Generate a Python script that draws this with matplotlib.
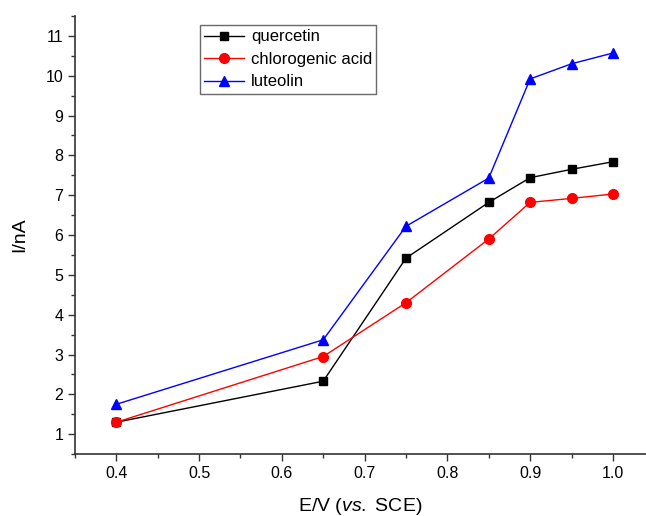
import numpy as np
import matplotlib.pyplot as plt
from matplotlib.ticker import MultipleLocator

plt.rcParams['font.family'] = ['Liberation Sans', 'DejaVu Sans']
plt.rcParams['mathtext.fontset'] = 'custom'
plt.rcParams['mathtext.rm'] = 'Liberation Sans'
plt.rcParams['mathtext.it'] = 'Liberation Sans:italic'

potential = [0.4, 0.65, 0.75, 0.85, 0.9, 0.95, 1.0]
quercetin = [1.30, 2.33, 5.42, 6.82, 7.44, 7.65, 7.84]
chlorogenic = [1.30, 2.95, 4.30, 5.90, 6.82, 6.92, 7.03]
luteolin = [1.75, 3.37, 6.22, 7.43, 9.92, 10.30, 10.57]

fig = plt.figure(figsize=(6.46, 5.16), dpi=100)
ax = fig.add_axes([0.116, 0.120, 0.884, 0.849])

ax.plot(potential, quercetin, color='black', lw=1, marker='s', ms=6, label='quercetin')
ax.plot(potential, chlorogenic, color='red', lw=1, marker='o', ms=7, label='chlorogenic acid')
ax.plot(potential, luteolin, color='blue', lw=1, marker='^', ms=7.5, label='luteolin')

ax.set_xlim(0.35, 1.04)
ax.set_ylim(0.5, 11.5)
ax.xaxis.set_minor_locator(MultipleLocator(0.05))
ax.yaxis.set_major_locator(MultipleLocator(1))
ax.yaxis.set_minor_locator(MultipleLocator(0.5))
ax.set_xticks([0.4, 0.5, 0.6, 0.7, 0.8, 0.9, 1.0])
ax.set_xticklabels(['0.4', '0.5', '0.6', '0.7', '0.8', '0.9', '1.0'])

for side in ['top', 'right']:
    ax.spines[side].set_visible(False)
for side in ['left', 'bottom']:
    ax.spines[side].set_linewidth(1.2)
    ax.spines[side].set_color('#333333')
ax.tick_params(which='major', direction='out', length=5, width=1, labelsize=11.5, colors='#333333', labelcolor='black')
ax.tick_params(which='minor', direction='out', length=3, width=1, colors='#333333')

ax.set_xlabel('E/V ($\\it{vs.}$ SCE)', fontsize=14, labelpad=11)
ax.set_ylabel('I/nA', fontsize=14, labelpad=12)

leg = ax.legend(loc='upper left', bbox_to_anchor=(0.219, 0.979), fontsize=12,
                frameon=True, fancybox=False, edgecolor='#444444', handlelength=2.4,
                borderpad=0.25, labelspacing=0.45, handletextpad=0.4, borderaxespad=0)
leg.get_frame().set_linewidth(1)

fig.savefig('out.png', dpi=100)
